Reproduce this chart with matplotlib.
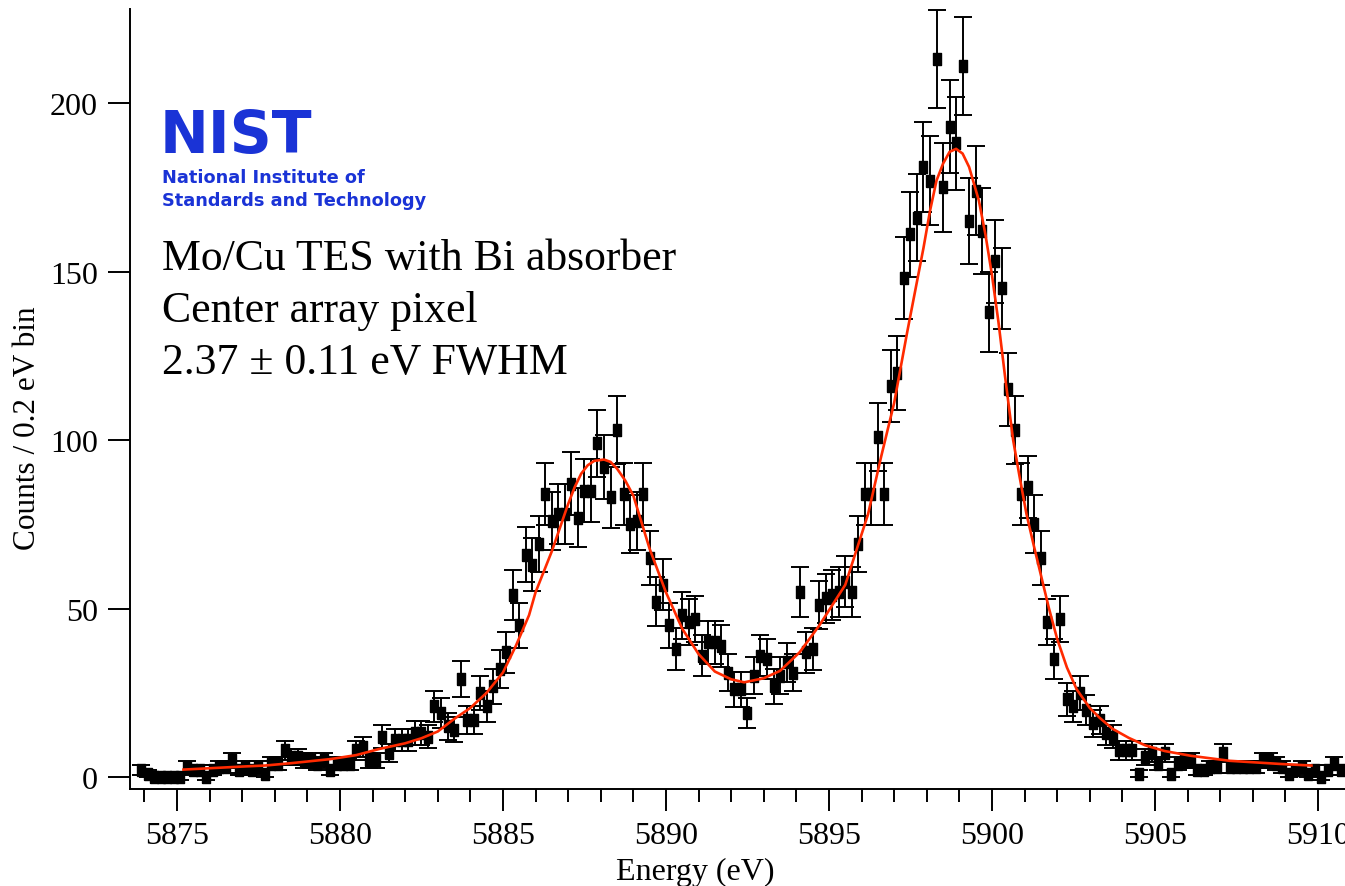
import numpy as np
import matplotlib
matplotlib.use("Agg")
import matplotlib.pyplot as plt
from matplotlib.ticker import MultipleLocator

# spectrum: counts per 0.2 eV bin, first bin centre 5873.9 eV
bin_start = 5873.9
bin_width = 0.2
counts = [
    2, 1, 0, 0, 0, 0, 0, 3, 2, 2,
    0, 2, 3, 3, 5, 2, 3, 2, 3, 1,
    4, 4, 8, 6, 6, 5, 5, 4, 5, 2,
    4, 4, 4, 8, 9, 5, 5, 12, 7, 11,
    11, 11, 13, 13, 12, 21, 19, 15, 14, 29,
    17, 17, 25, 21, 27, 32, 37, 54, 45, 66,
    63, 69, 84, 76, 78, 78, 87, 77, 85, 85,
    99, 92, 83, 103, 84, 75, 76, 84, 65, 52,
    57, 45, 38, 48, 46, 47, 36, 40, 40, 39,
    31, 26, 26, 19, 30, 36, 35, 27, 30, 34,
    31, 55, 37, 38, 51, 53, 54, 55, 58, 55,
    69, 84, 84, 101, 84, 116, 120, 148, 161, 166,
    181, 177, 213, 175, 193, 188, 211, 165, 174, 162,
    138, 153, 145, 115, 103, 84, 86, 75, 65, 46,
    35, 47, 23, 21, 25, 20, 16, 17, 13, 12,
    8, 8, 8, 1, 6, 7, 4, 7, 1, 4,
    5, 5, 2, 2, 3, 3, 7, 3, 3, 3,
    3, 3, 5, 5, 4, 3, 1, 2, 3, 1,
    2, 0, 2, 4, 2,
]

# fitted line shape
fit_energy = [5875.2, 5876.0, 5877.0, 5877.7, 5878.5, 5879.7, 5880.5, 5881.2,
              5882.0, 5882.5, 5883.0, 5883.5, 5884.0, 5884.5, 5885.0, 5885.4,
              5885.8, 5886.0, 5886.5, 5887.0, 5887.2, 5887.4, 5887.6, 5887.8,
              5888.1, 5888.3, 5888.5, 5888.75, 5889.0, 5889.5, 5890.0, 5890.5,
              5891.0, 5891.5, 5892.0, 5892.4, 5893.0, 5893.5, 5894.1, 5894.7,
              5895.5, 5896.2, 5896.6, 5897.0, 5897.4, 5897.9, 5898.1, 5898.3,
              5898.5, 5898.7, 5898.9, 5899.1, 5899.3, 5899.45, 5899.6, 5899.8,
              5900.0, 5900.2, 5900.4, 5900.65, 5900.85, 5901.06, 5901.3, 5901.5,
              5901.75, 5902.0, 5902.3, 5902.6, 5903.0, 5903.3, 5903.7, 5904.2,
              5904.7, 5905.3, 5906.1, 5907.3, 5908.8, 5909.8]
fit_counts = [2.2, 2.6, 3.1, 3.4, 4.1, 5.3, 6.5, 8.3,
              10.0, 11.5, 13.5, 17.2, 20.5, 25.0, 31.0, 39.0,
              48.0, 54.8, 67.0, 81.0, 86.0, 90.0, 92.5, 93.8,
              94.2, 93.5, 91.5, 88.0, 83.5, 67.7, 54.8, 44.0,
              36.5, 31.3, 29.0, 28.1, 29.3, 31.5, 37.0, 44.9,
              57.0, 78.0, 95.0, 111.0, 132.0, 157.0, 168.0, 177.0,
              182.0, 185.5, 186.4, 185.0, 181.0, 176.0, 171.0, 161.0,
              149.0, 135.0, 119.0, 100.0, 89.0, 78.0, 68.0, 60.0,
              50.0, 41.0, 32.5, 26.0, 20.5, 17.6, 14.3, 11.6,
              9.4, 7.7, 6.3, 4.8, 3.9, 3.4]

energy = bin_start + bin_width * np.arange(len(counts))
counts = np.array(counts, dtype=float)
err = np.sqrt(np.maximum(counts, 1))  # Poisson errors

serif = "Liberation Serif"
nist_blue = "#1a33d6"

fig = plt.figure(figsize=(13.45, 8.87), dpi=100)
ax = fig.add_axes([130 / 1345, 97 / 887, 1215 / 1345, 780 / 887])

ax.errorbar(energy, counts, yerr=err, fmt="none", ecolor="black",
            elinewidth=1.4, capsize=6.8, capthick=1.4, zorder=2)
rect = [(-0.33, -0.5), (0.33, -0.5), (0.33, 0.5), (-0.33, 0.5), (-0.33, -0.5)]
ax.plot(energy, counts, linestyle="none", marker=rect, markersize=8.3,
        color="black", zorder=3)
ax.plot(fit_energy, fit_counts, color="#ff2a00", lw=1.9, zorder=4)

ax.set_xlim(5873.56, 5910.83)
ax.set_ylim(-3.56, 227.9)

for side in ["top", "right"]:
    ax.spines[side].set_visible(False)
for side in ["left", "bottom"]:
    ax.spines[side].set_linewidth(1.4)

ax.xaxis.set_major_locator(MultipleLocator(5))
ax.xaxis.set_minor_locator(MultipleLocator(1))
ax.yaxis.set_major_locator(MultipleLocator(50))
ax.tick_params(axis="both", which="major", direction="out", length=16,
               width=1.4, pad=7)
ax.tick_params(axis="x", which="minor", direction="out", length=9, width=1.4)
for lab in ax.get_xticklabels() + ax.get_yticklabels():
    lab.set_fontfamily(serif)
    lab.set_fontsize(23)

fig.text(695 / 1345, 1 - 872 / 887, "Energy (eV)", family=serif, fontsize=23,
         ha="center", va="center")
fig.text(28 / 1345, 1 - 428 / 887, "Counts / 0.2 eV bin", family=serif,
         fontsize=22.5, rotation=90, ha="center", va="center")

# NIST logo
fig.text(160 / 1345, 1 - 136 / 887, "NIST", family="DejaVu Sans",
         weight="bold", fontsize=42, color=nist_blue, ha="left", va="center")
fig.text(162 / 1345, 1 - 178 / 887, "National Institute of", family="DejaVu Sans",
         weight="bold", fontsize=12.8, color=nist_blue, ha="left", va="center")
fig.text(162 / 1345, 1 - 201 / 887, "Standards and Technology",
         family="DejaVu Sans", weight="bold", fontsize=12.8, color=nist_blue,
         ha="left", va="center")

notes = ["Mo/Cu TES with Bi absorber", "Center array pixel",
         "2.37 \u00b1 0.11 eV FWHM"]
for i, line in enumerate(notes):
    fig.text(162 / 1345, 1 - (259 + 52 * i) / 887, line, family=serif,
             fontsize=31.5, ha="left", va="center")

fig.savefig("out.png", dpi=100)
